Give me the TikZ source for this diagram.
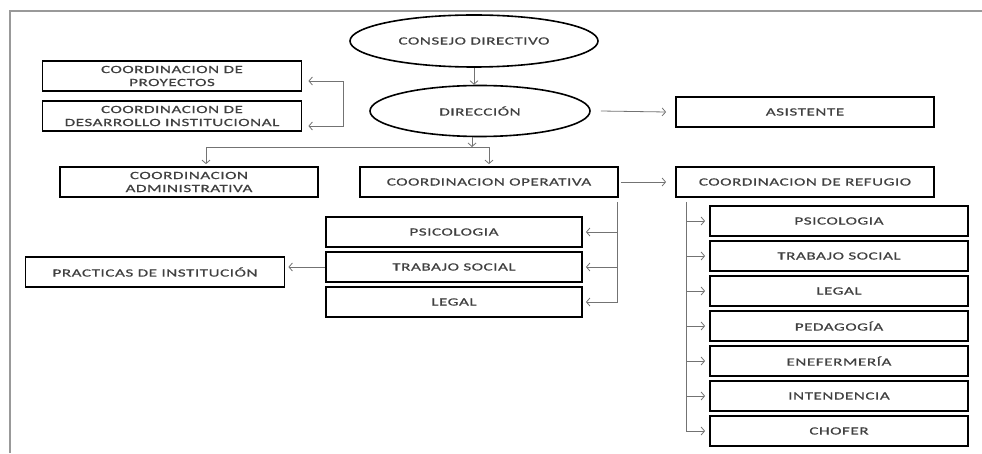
\documentclass[tikz,border=0pt]{standalone}
\usepackage{fontspec}
\setmainfont{Carlito}[FakeStretch=1.55,LetterSpace=5,FakeBold=0.6]
\usepackage{tikz}
\usetikzlibrary{arrows}
\usetikzlibrary{arrows.meta}
\usetikzlibrary{shapes.geometric}

\tikzset{
  caja/.style={draw,line width=1.8pt,minimum width=258pt,minimum height=30pt,inner sep=0pt,align=center,text=black!75,font=\fontsize{11}{13}\selectfont},
  elipse/.style={draw,ellipse,line width=1.6pt,inner sep=0pt,text=black!75,font=\fontsize{11}{13}\selectfont},
  flecha/.style={->,>={Straight Barb[length=3.5pt,width=8pt]},gray!90!black,line width=0.8pt}
}

\begin{document}
\begin{tikzpicture}[x=1pt,y=1pt]
    \useasboundingbox (0,0) rectangle (982,453);
    %% marco
    \draw [gray!80,line width=1.5pt] (10,0) -- (10,442) -- (982,442);
    %% direccion
    \node (consejo) [elipse,minimum width=248pt,minimum height=52pt] at (474,412) {CONSEJO DIRECTIVO};
    \node (direccion) [elipse,minimum width=220pt,minimum height=51pt] at (480,342) {DIRECCIÓN};
    \node (asistente) [caja] at (805,341) {ASISTENTE};
    \node (proyectos) [caja,minimum width=259pt] at (172,377) {COORDINACION DE\\PROYECTOS};
    \node (desarrollo) [caja,minimum width=259pt] at (172,337) {COORDINACION DE\\DESARROLLO INSTITUCIONAL};
    \draw [flecha] (consejo.south) -- (consejo.south |- direccion.north);
    \draw [flecha] ([xshift=10pt]direccion.east) -- ([xshift=-9pt]asistente.west);
    \draw [flecha,<->] ([xshift=6pt,yshift=-5pt]proyectos.east) -- ++(35,0) |- ([xshift=6pt,yshift=-10pt]desarrollo.east);
    %% coordinaciones
    \node (administrativa) [caja] at (189,271) {COORDINACION\\ADMINISTRATIVA};
    \node (operativa) [caja] at (489,271) {COORDINACION OPERATIVA};
    \node (refugio) [caja] at (805,271) {COORDINACION DE REFUGIO};
    \coordinate (jd) at (472,306);
    \draw [flecha] ([xshift=-8pt]direccion.south) -- (jd);
    \draw [flecha] (jd) -| ([xshift=17pt,yshift=2pt]administrativa.north);
    \draw [flecha] (jd) -| ([yshift=2pt]operativa.north);
    \draw [flecha] ([xshift=2pt]operativa.east) -- ([xshift=-9pt]refugio.west);
    %% areas de operativa
    \node (opsico) [caja,minimum width=256pt] at (454,221) {PSICOLOGIA};
    \node (otrabajo) [caja,minimum width=256pt] at (454,186) {TRABAJO SOCIAL};
    \node (olegal) [caja,minimum width=256pt] at (454,151) {LEGAL};
    \node (practicas) [caja,minimum width=259pt] at (155,181) {PRACTICAS DE INSTITUCIÓN};
    \coordinate (ob) at (617,251);
    \draw [flecha] (ob) |- ([xshift=3pt]olegal.east);
    \draw [flecha] (ob |- opsico.east) -- ([xshift=3pt]opsico.east);
    \draw [flecha] (ob |- otrabajo.east) -- ([xshift=3pt]otrabajo.east);
    \draw [flecha] (otrabajo.west) -- ([xshift=3pt]practicas.east |- otrabajo.west);
    %% areas de refugio
    \node (rpsico) [caja] at (839,232) {PSICOLOGIA};
    \node (rtrabajo) [caja] at (839,197) {TRABAJO SOCIAL};
    \node (rlegal) [caja] at (839,162) {LEGAL};
    \node (rpedagogia) [caja] at (839,127) {PEDAGOGÍA};
    \node (renfermeria) [caja] at (839,92) {ENEFERMERÍA};
    \node (rintendencia) [caja] at (839,57) {INTENDENCIA};
    \node (rchofer) [caja] at (839,22) {CHOFER};
    \coordinate (rb) at (686,251);
    \draw [flecha] (rb) |- ([xshift=-4pt]rchofer.west);
    \draw [flecha] (rb |- rpsico.west) -- ([xshift=-4pt]rpsico.west);
    \draw [flecha] (rb |- rtrabajo.west) -- ([xshift=-4pt]rtrabajo.west);
    \draw [flecha] (rb |- rlegal.west) -- ([xshift=-4pt]rlegal.west);
    \draw [flecha] (rb |- rpedagogia.west) -- ([xshift=-4pt]rpedagogia.west);
    \draw [flecha] (rb |- renfermeria.west) -- ([xshift=-4pt]renfermeria.west);
    \draw [flecha] (rb |- rintendencia.west) -- ([xshift=-4pt]rintendencia.west);
\end{tikzpicture}
\end{document}
